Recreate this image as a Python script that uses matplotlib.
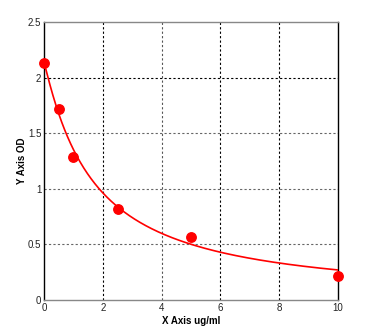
import numpy as np
import matplotlib
matplotlib.use("Agg")
import matplotlib.pyplot as plt

plt.rcParams["font.family"] = ["Liberation Sans", "DejaVu Sans"]

# standard points
conc = [0, 0.5, 1, 2.5, 5, 10]
od = [2.13, 1.72, 1.29, 0.82, 0.57, 0.22]

# 4PL standard curve parameters
top = 2.137
hill = 1.071
ec50 = 1.672
bottom = -0.005

x_ticks = [0, 2, 4, 6, 8, 10]
y_ticks = [0, 0.5, 1, 1.5, 2, 2.5]
y_tick_labels = ["0", "0.5", "1", "1.5", "2", "2.5"]


def four_pl(x):
    return bottom + (top - bottom) / (1 + (x / ec50) ** hill)


fig = plt.figure(figsize=(3.85, 3.31), dpi=100)
ax = fig.add_axes([0.1143, 0.0937, 0.7636, 0.8398])

xs = np.linspace(0, 10, 400)
ax.plot(xs, four_pl(xs), color="red", lw=1.2, zorder=3)
ax.plot(conc, od, "o", color="red", ms=6.8, clip_on=False, zorder=4)

ax.set_xlim(0, 10)
ax.set_ylim(0, 2.5)
ax.set_xticks(x_ticks)
ax.set_xticklabels([str(t) for t in x_ticks])
ax.set_yticks(y_ticks)
ax.set_yticklabels(y_tick_labels)
ax.tick_params(length=0, labelsize=7, colors="#222222", pad=2)

# dashed grid, inner lines only
for v in x_ticks[1:-1]:
    ax.axvline(v, color="black" if v != 4 else "#555555", lw=0.8,
               linestyle=(0, (2, 2)), zorder=1)
for v in y_ticks[1:-1]:
    ax.axhline(v, color="black" if v == 2 else "#666666", lw=0.8,
               linestyle=(0, (2, 2)), zorder=1)

ax.spines["left"].set_color("black")
ax.spines["right"].set_color("black")
ax.spines["top"].set_color("#888888")
ax.spines["bottom"].set_color("#888888")
for s in ax.spines.values():
    s.set_linewidth(1.0)

ax.set_xlabel("X Axis ug/ml", fontsize=7, fontweight="bold", labelpad=2)
ax.set_ylabel("Y Axis OD", fontsize=7, fontweight="bold", labelpad=0.5)

fig.savefig("out.png", dpi=100)
